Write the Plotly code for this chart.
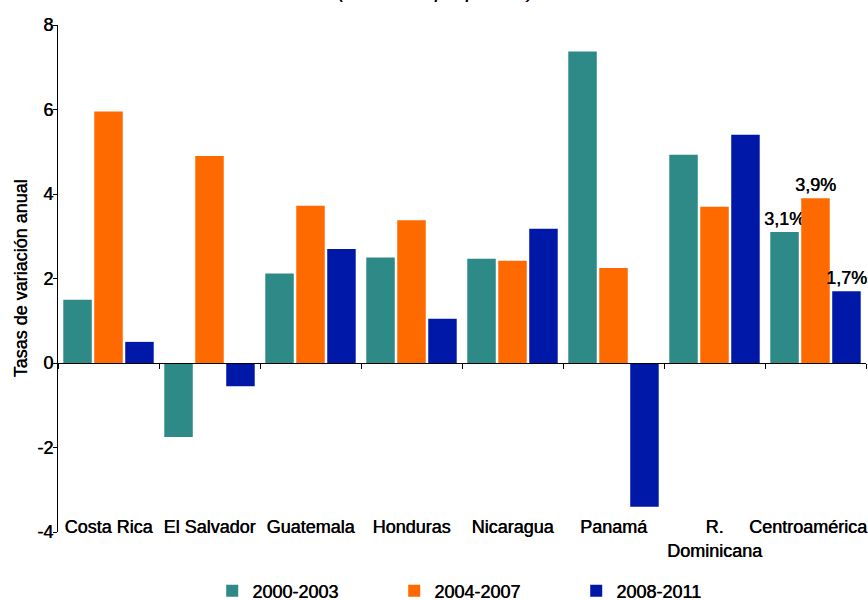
import plotly.graph_objects as go

# Average annual growth by period
categories = ["Costa Rica", "El Salvador", "Guatemala", "Honduras", "Nicaragua",
              "Panamá", "R.<br>Dominicana", "Centroamérica"]
periods = ["2000-2003", "2004-2007", "2008-2011"]
v_2000_2003 = [1.5, -1.75, 2.12, 2.5, 2.47, 7.37, 4.93, 3.1]
v_2004_2007 = [5.95, 4.9, 3.72, 3.38, 2.42, 2.25, 3.7, 3.9]
v_2008_2011 = [0.5, -0.55, 2.7, 1.05, 3.18, -3.4, 5.4, 1.7]
y_ticks = [-4, -2, 0, 2, 4, 6, 8]

series = [v_2000_2003, v_2004_2007, v_2008_2011]
colors = ["#2E8A87", "#FF6A00", "#0018A8"]

FONT = "Liberation Sans, Arial, sans-serif"
FS = 18
# a hairline offset shadow gives the text a slightly heavier, semi-bold look
TXT = dict(family=FONT, size=FS, color="black", shadow="0.5px 0px 0px black")

# the last category label is nudged inwards so it stays inside the page
cat_text = categories[:-1] + [categories[-1] + "&nbsp;" * 3]


def labels_for(values):
    # only the regional aggregate carries a value label
    out = []
    for i, v in enumerate(values):
        out.append(f"{v:.1f}%".replace(".", ",") if i == len(values) - 1 else "")
    return out


fig = go.Figure()
for name, vals, col in zip(periods, series, colors):
    fig.add_trace(go.Bar(
        x=categories, y=vals, name=name,
        marker=dict(color=col, line=dict(width=0)),
        text=labels_for(vals), textposition="outside", constraintext="none",
        textfont=TXT, cliponaxis=False,
    ))

# carrier for the category labels drawn along the bottom
fig.add_trace(go.Scatter(
    x=categories, y=[None] * len(categories), xaxis="x2", yaxis="y",
    showlegend=False, hoverinfo="skip", mode="markers",
))

fig.update_layout(
    width=868, height=600,
    margin=dict(l=58, r=2, t=25, b=68, autoexpand=False),
    paper_bgcolor="white", plot_bgcolor="white",
    font=TXT,
    barmode="group", bargap=0.08, bargroupgap=0.08,
    xaxis=dict(
        type="category", categoryarray=categories, range=[-0.5, 7.5],
        anchor="free", position=1 / 3, automargin=False,
        showline=True, linecolor="black", linewidth=1.2,
        ticks="outside", ticklen=5, tickcolor="black", tickson="boundaries",
        showticklabels=False, showgrid=False, zeroline=False,
    ),
    xaxis2=dict(
        type="category", categoryarray=categories, range=[-0.5, 7.5],
        tickvals=categories, ticktext=cat_text,
        overlaying="x", anchor="free", position=0.035, automargin=False,
        showline=False, ticks="", showgrid=False, zeroline=False,
        tickangle=0, tickfont=TXT,
    ),
    yaxis=dict(
        range=[-4, 8], tickvals=y_ticks, ticktext=[str(t) for t in y_ticks],
        automargin=False,
        showline=True, linecolor="black", linewidth=1.2,
        ticks="outside", ticklen=4, tickcolor="black", ticklabelstandoff=-4,
        showgrid=False, zeroline=False,
        tickfont=TXT,
        title=dict(text="Tasas de variación anual", font=TXT, standoff=4),
    ),
    legend=dict(
        orientation="h", xref="container", yref="container",
        x=0.559, xanchor="center", y=0.015, yanchor="middle",
        entrywidth=137, entrywidthmode="pixels",
        font=TXT,
    ),
    annotations=[dict(
        text="<i>(Promedios por período)</i>", xref="paper", yref="paper",
        x=0.4666, y=1, xanchor="center", yanchor="bottom", yshift=21,
        showarrow=False, font=TXT,
    )],
)

fig.write_html("out.html")
